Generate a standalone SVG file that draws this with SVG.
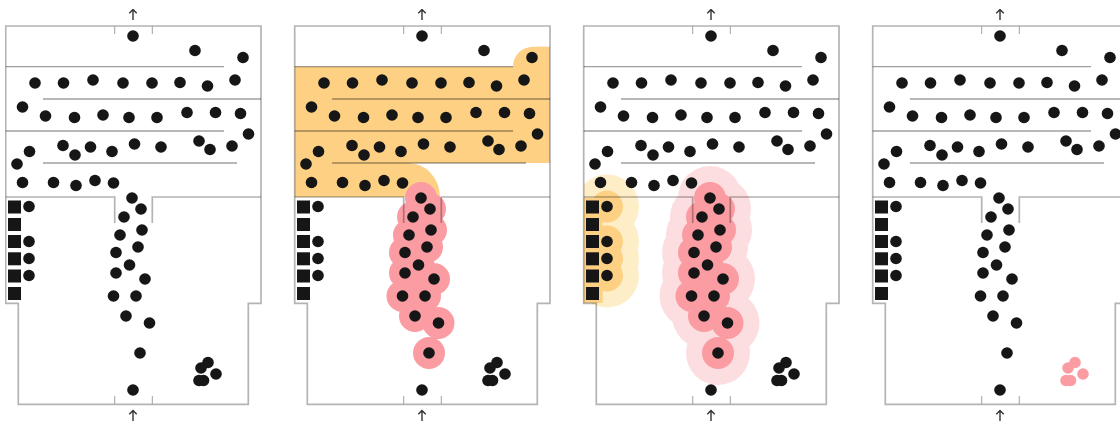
<svg xmlns="http://www.w3.org/2000/svg" width="1120" height="423" viewBox="0 0 1120 423">
<style>
.wall{fill:none;stroke:#b4b4b4;stroke-width:1.7;mix-blend-mode:multiply}
.inner{fill:none;stroke:#a0a0a0;stroke-width:1.3;mix-blend-mode:multiply}
.tick{fill:none;stroke:#a0a0a0;stroke-width:1}
.arrow{fill:none;stroke:#333;stroke-width:1.4}
.dot{fill:#141414;r:5.800px}
.sq{fill:#141414}
#cluster circle{r:5.800px}
.buf{fill:none;stroke-linecap:round;stroke-linejoin:round}
.red{stroke:#fb9ca3;stroke-width:32}
.pale-red{stroke:#fcdde0;stroke-width:64}
.orange{stroke:#fdd083;stroke-width:32}
.pale-orange{stroke:#fdeec8;stroke-width:64}
</style>
<defs>
<filter id="soft" x="0" y="0" width="100%" height="100%"><feGaussianBlur stdDeviation="0.55"/></filter>
<path id="column" d="M132 198h0M141 209h0M124 217h0M142 230h0M120 235h0M138 247h0M116 252.500h0M129.500 265h0M116 273h0M145 279h0M113.500 296h0M136 296h0M126 316h0M149.500 323h0M140 353h0"/>
<path id="seated" d="M29 206.500h0M29 241.500h0M29 258.500h0M29 275.500h0"/>
<g id="walls">
<path class="wall" d="M5.700 197V26H261V303.300H248.300V404.300H18.300V303.300H5.700V197"/>
<path class="wall" d="M5.700 197H114.700V223M152.300 223V197H261"/>
<path class="inner" d="M5.700 66.700H224M43 99H261M5.700 131H224M43 163H237"/>
<path class="tick" d="M114.700 26V34M152.300 26V34M114.700 396V404M152.300 396V404"/>
<path class="arrow" d="M133 20V9.500M129.300 13.300L133 9.500L136.700 13.300"/>
<path class="arrow" d="M133 421V410.500M129.300 414.300L133 410.500L136.700 414.300"/>
</g>
<g id="dots">
<circle class="dot" cx="133" cy="36" r="5.800"/><circle class="dot" cx="195" cy="50.500" r="5.800"/><circle class="dot" cx="243" cy="57.500" r="5.800"/>
<circle class="dot" cx="35" cy="83" r="5.800"/><circle class="dot" cx="63.500" cy="83" r="5.800"/><circle class="dot" cx="93" cy="80" r="5.800"/><circle class="dot" cx="123" cy="83" r="5.800"/><circle class="dot" cx="152" cy="83" r="5.800"/><circle class="dot" cx="180" cy="82.500" r="5.800"/><circle class="dot" cx="207.500" cy="86" r="5.800"/><circle class="dot" cx="235" cy="80" r="5.800"/>
<circle class="dot" cx="22.500" cy="107" r="5.800"/><circle class="dot" cx="45.500" cy="116" r="5.800"/><circle class="dot" cx="74.500" cy="117.500" r="5.800"/><circle class="dot" cx="103" cy="115" r="5.800"/><circle class="dot" cx="129" cy="117.500" r="5.800"/><circle class="dot" cx="157" cy="117.500" r="5.800"/><circle class="dot" cx="187" cy="112.500" r="5.800"/><circle class="dot" cx="215.500" cy="112.500" r="5.800"/><circle class="dot" cx="240.500" cy="113.500" r="5.800"/><circle class="dot" cx="248.500" cy="134" r="5.800"/>
<circle class="dot" cx="63" cy="145.500" r="5.800"/><circle class="dot" cx="75" cy="155" r="5.800"/><circle class="dot" cx="90.500" cy="147" r="5.800"/><circle class="dot" cx="112" cy="151.500" r="5.800"/><circle class="dot" cx="134.500" cy="144" r="5.800"/><circle class="dot" cx="161" cy="147" r="5.800"/><circle class="dot" cx="199" cy="141" r="5.800"/><circle class="dot" cx="210" cy="149.500" r="5.800"/><circle class="dot" cx="232" cy="146" r="5.800"/>
<circle class="dot" cx="29.500" cy="151.500" r="5.800"/><circle class="dot" cx="17" cy="164" r="5.800"/>
<circle class="dot" cx="22.500" cy="182.500" r="5.800"/><circle class="dot" cx="53.500" cy="182.500" r="5.800"/><circle class="dot" cx="76" cy="185.500" r="5.800"/><circle class="dot" cx="95" cy="180.500" r="5.800"/><circle class="dot" cx="113.500" cy="183" r="5.800"/>
<circle class="dot" cx="132" cy="198" r="5.800"/><circle class="dot" cx="141" cy="209" r="5.800"/><circle class="dot" cx="124" cy="217" r="5.800"/><circle class="dot" cx="142" cy="230" r="5.800"/><circle class="dot" cx="120" cy="235" r="5.800"/><circle class="dot" cx="138" cy="247" r="5.800"/><circle class="dot" cx="116" cy="252.500" r="5.800"/><circle class="dot" cx="129.500" cy="265" r="5.800"/><circle class="dot" cx="116" cy="273" r="5.800"/><circle class="dot" cx="145" cy="279" r="5.800"/><circle class="dot" cx="113.500" cy="296" r="5.800"/><circle class="dot" cx="136" cy="296" r="5.800"/><circle class="dot" cx="126" cy="316" r="5.800"/><circle class="dot" cx="149.500" cy="323" r="5.800"/><circle class="dot" cx="140" cy="353" r="5.800"/><circle class="dot" cx="133" cy="390" r="5.800"/>
<circle class="dot" cx="29" cy="206.500" r="5.800"/><circle class="dot" cx="29" cy="241.500" r="5.800"/><circle class="dot" cx="29" cy="258.500" r="5.800"/><circle class="dot" cx="29" cy="275.500" r="5.800"/>
<rect class="sq" x="8" y="200.500" width="13" height="13"/><rect class="sq" x="8" y="218" width="13" height="13"/><rect class="sq" x="8" y="235" width="13" height="13"/><rect class="sq" x="8" y="252.300" width="13" height="13"/><rect class="sq" x="8" y="269.500" width="13" height="13"/><rect class="sq" x="8" y="287" width="13" height="13"/>
</g>
<g id="cluster">
<circle cx="208" cy="362.500" r="5.800"/><circle cx="201" cy="368" r="5.800"/><circle cx="216" cy="374" r="5.800"/><circle cx="199" cy="380.500" r="5.800"/><circle cx="203.500" cy="380.500" r="5.800"/>
</g>
<clipPath id="roomLeft"><rect x="5.700" y="0" width="300" height="423"/></clipPath>
</defs>
<rect width="1120" height="423" fill="#ffffff"/>
<g filter="url(#soft)">
<g id="panel-1">
<use href="#walls"/><use href="#dots"/><use href="#cluster" fill="#141414"/>
</g>
<g id="panel-2" transform="translate(289 0)">
<path id="zone-orange" fill="#fdd083" d="M5.700 197V66.700H224A20 20 0 0 1 244 46.700H261V163H119A32 34 0 0 1 151 197Z"/>
<use href="#column" class="buf red"/>
<use href="#walls"/><use href="#dots"/><use href="#cluster" fill="#141414"/>
</g>
<g id="panel-3" transform="translate(578 0)">
<g clip-path="url(#roomLeft)"><use href="#seated" class="buf pale-orange"/></g>
<rect x="5.700" y="198" width="19" height="105" fill="#fdd083"/>
<use href="#seated" class="buf orange"/>
<use href="#column" class="buf pale-red"/>
<use href="#column" class="buf red"/>
<use href="#walls"/><use href="#dots"/><use href="#cluster" fill="#141414"/>
</g>
<g id="panel-4" transform="translate(867 0)">
<use href="#walls"/><use href="#dots"/><use href="#cluster" fill="#fb9ca3"/>
</g>
</g>
</svg>
